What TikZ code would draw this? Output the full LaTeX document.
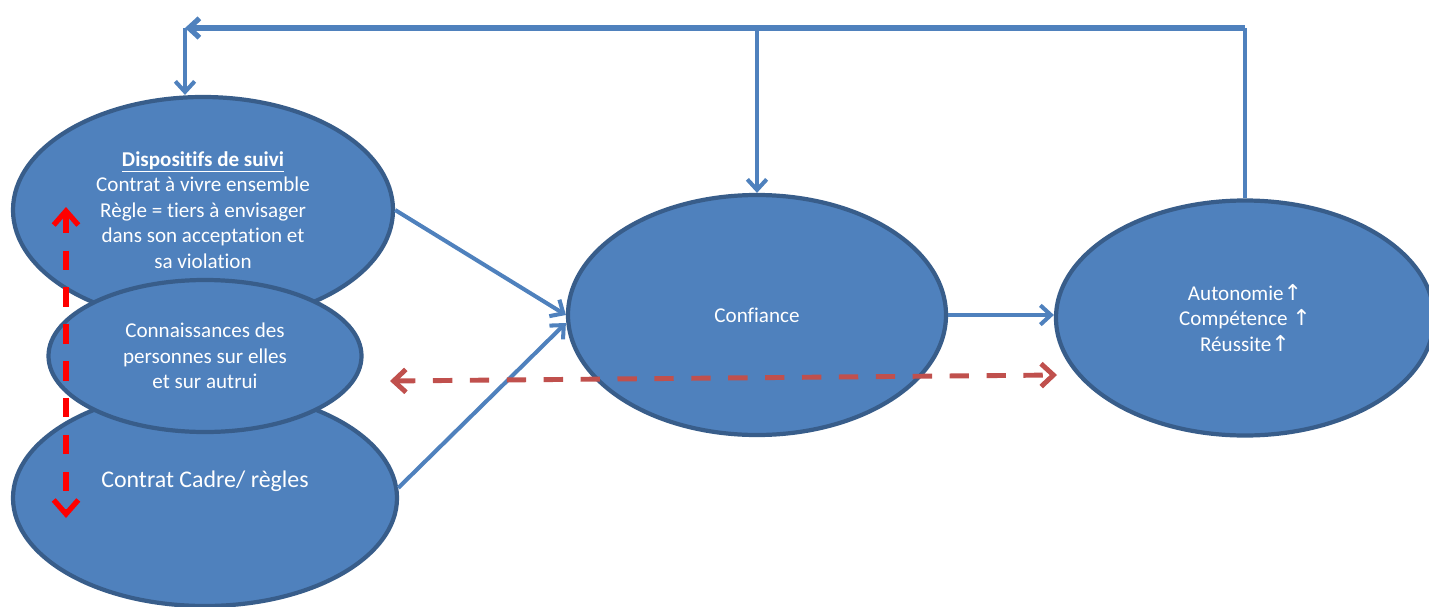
\documentclass[tikz,border=0pt]{standalone}
\usepackage{fontspec}
\setmainfont{Carlito}[RawFeature={-liga,-clig,-calt,-dlig}]
\newfontfamily\flechefont{DejaVu Sans}
\usetikzlibrary{arrows.meta, shapes.geometric}

\definecolor{bleu}{HTML}{4F81BD}
\definecolor{bord}{HTML}{385D8A}
\definecolor{brique}{HTML}{C0504D}

\newcommand{\hausse}{{\flechefont\fontsize{12.5}{12}\selectfont ↑}}

\begin{document}
\begin{tikzpicture}[x=0.2mm, y=-0.2mm]

\tikzset{
  bulle/.style={ellipse, draw=bord, fill=bleu, line width=2.4pt, inner sep=0pt,
    text=white, align=center, font=\fontsize{12}{14.6}\selectfont},
  lien/.style={draw=bleu, line width=2.3pt, -{Straight Barb[length=6pt, width=11pt]}},
  boucle/.style={draw=bleu, line width=3pt},
  echange/.style={draw=brique, line width=2.8pt, dash pattern=on 11pt off 10pt,
    {Straight Barb[length=7pt, width=13pt]}-{Straight Barb[length=7pt, width=13pt]}},
  vifrouge/.style={draw=red, line width=3pt, dash pattern=on 11pt off 10pt,
    {Straight Barb[length=8pt, width=14pt]}-{Straight Barb[length=8pt, width=14pt]}}
}

\useasboundingbox (0,0) rectangle (1429,607);

% --- Bulles de gauche ---
\node[bulle, minimum width=76mm, minimum height=45.2mm] (suivi) at (203,210)
  {\underline{\textbf{Dispositifs de suivi}}\\Contrat à vivre ensemble\\Règle = tiers à envisager\\dans son acceptation et\\sa violation};
\node[bulle, minimum width=76.8mm, minimum height=43.2mm,
  label={[yshift=3.4mm, text=white, font=\fontsize{13.6}{16}\selectfont]center:Contrat Cadre/ règles}] (cadre) at (205,498) {};
\node[bulle, minimum width=62.6mm, minimum height=30.4mm] (connais) at (205,356)
  {Connaissances des\\personnes sur elles\\et sur autrui};

% --- Confiance et résultats ---
\node[bulle, minimum width=75.6mm, minimum height=48mm] (confiance) at (757,315) {Confiance};
\node[bulle, minimum width=75.6mm, minimum height=47mm] (reussite) at (1245,318)
  {Autonomie\hausse\\Compétence \hausse\\Réussite\hausse};

% --- Boucle du haut ---
\coordinate (coin) at (185,28);
\draw[lien, -] (reussite.north) -- (reussite.north |- coin);
\draw[boucle, -{Straight Barb[length=6pt, width=11pt]}] (reussite.north |- coin) -- (coin);
\draw[lien] (coin) -- (coin |- suivi.north);
\draw[lien] (confiance.north |- coin) -- (confiance.north);

% --- Vers la confiance ---
\draw[lien] (suivi.east) -- (confiance.west);
\draw[lien] (cadre.3) -- ([yshift=-1.6mm]confiance.west);
\draw[lien] (confiance.east) -- (confiance.east -| reussite.west);

% --- Pointillés ---
\coordinate (gauche) at (390,381);
\coordinate (droite) at (1057,375);
\draw[echange] (gauche) -- (droite);

\coordinate (haut) at (66,207);
\coordinate (bas) at (66,518);
\draw[vifrouge] (haut) -- (bas);

\end{tikzpicture}
\end{document}
